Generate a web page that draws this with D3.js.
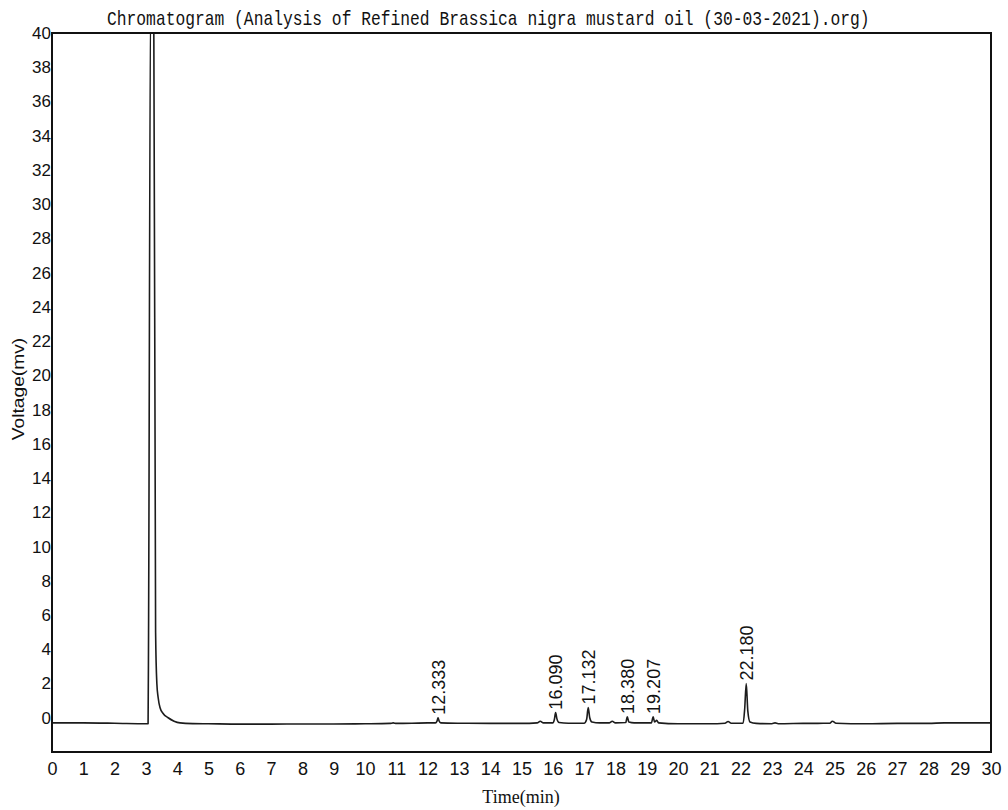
<!DOCTYPE html>
<html>
<head>
<meta charset="utf-8">
<script src="https://cdn.jsdelivr.net/npm/d3@7"></script>
<style>
  html, body { margin: 0; padding: 0; background: #ffffff; }
  svg { display: block; }
</style>
</head>
<body>
<svg id="chart" width="1008" height="810"></svg>
<script>
// ---- data ----
const titleText = "Chromatogram (Analysis of Refined Brassica nigra mustard oil (30-03-2021).org)";
const xAxisTitle = "Time(min)";
const yAxisTitle = "Voltage(mv)";

const timeTicks = [0,1,2,3,4,5,6,7,8,9,10,11,12,13,14,15,16,17,18,19,20,21,22,23,24,25,26,27,28,29,30];
const voltageTicks = [0,2,4,6,8,10,12,14,16,18,20,22,24,26,28,30,32,34,36,38,40];

const peakTimes   = [12.333, 16.090, 17.132, 18.380, 19.207, 22.180];
const peakLabels  = ["12.333", "16.090", "17.132", "18.380", "19.207", "22.180"];
const peakHeights = [0.0, 0.3, 0.6, 0.05, 0.05, 2.0];

const traceTime = [
  0, 1, 2, 3.0, 3.07, 3.085, 3.15, 3.25, 3.31, 3.35, 3.39, 3.45, 3.55, 3.71, 3.9, 4.09, 4.5,
  5, 6, 7, 8, 9, 10, 10.8, 10.9, 11.0, 11.5, 12.0, 12.25, 12.3, 12.333, 12.37, 12.42,
  13, 14, 15, 15.5, 15.6, 15.7, 16.0, 16.05, 16.09, 16.13, 16.2, 16.5,
  17.0, 17.08, 17.132, 17.18, 17.25, 17.5, 17.8, 17.9, 18.0, 18.33, 18.38, 18.43, 18.6,
  19.15, 19.207, 19.25, 19.32, 19.38, 20, 21, 21.5, 21.6, 21.7,
  22.08, 22.13, 22.18, 22.23, 22.3, 22.5, 23, 23.1, 23.2, 24, 24.85, 24.93, 25.05,
  26, 27, 28, 28.5, 29, 30
];
const traceVoltage = [
  -0.3, -0.3, -0.32, -0.35, -0.35, 5, 42, 42, 5, 2.0, 1.2, 0.6, 0.25, 0.0, -0.2, -0.3, -0.34,
  -0.35, -0.37, -0.37, -0.36, -0.36, -0.35, -0.33, -0.3, -0.33, -0.32, -0.3, -0.3, -0.2, 0.0, -0.2, -0.3,
  -0.32, -0.33, -0.33, -0.3, -0.2, -0.3, -0.3, -0.1, 0.3, -0.05, -0.28, -0.32,
  -0.32, -0.1, 0.6, 0.0, -0.25, -0.3, -0.3, -0.2, -0.3, -0.28, 0.05, -0.25, -0.3,
  -0.3, 0.05, -0.25, -0.15, -0.3, -0.35, -0.35, -0.32, -0.22, -0.32,
  -0.32, 0.5, 2.0, 0.4, -0.25, -0.33, -0.35, -0.3, -0.35, -0.33, -0.32, -0.2, -0.32,
  -0.35, -0.33, -0.33, -0.3, -0.3, -0.3
];

// ---- drawing ----
const svg = d3.select("#chart");
const mLeft = 52, mRight = 991, mTop = 33, mBottom = 752;

const x = d3.scaleLinear().domain([0, 30]).range([mLeft, mRight]);
const y = d3.scaleLinear().domain([-2, 40]).range([mBottom, mTop]);

svg.append("defs").append("clipPath").attr("id", "plotclip")
  .append("rect").attr("x", mLeft).attr("y", mTop).attr("width", mRight - mLeft).attr("height", mBottom - mTop);

// title (narrow monospace, stretched vertically)
svg.append("text")
  .attr("transform", "translate(107,25) scale(1,1.22)")
  .attr("x", 0).attr("y", 0)
  .style("font-family", "'Liberation Mono', 'DejaVu Sans Mono', monospace")
  .style("font-size", "16.3px").style("fill", "#111")
  .text(titleText);

// trace
const pts = traceTime.map((t, i) => [t, traceVoltage[i]]);
const line = d3.line().x(d => x(d[0])).y(d => y(d[1])).curve(d3.curveMonotoneX);
svg.append("path")
  .datum(pts)
  .attr("clip-path", "url(#plotclip)")
  .attr("d", line)
  .attr("fill", "none")
  .attr("stroke", "#1c1c1c")
  .attr("stroke-width", 1.6)
  .attr("stroke-linejoin", "round");

// frame
svg.append("rect")
  .attr("x", mLeft).attr("y", mTop).attr("width", mRight - mLeft).attr("height", mBottom - mTop)
  .attr("fill", "none").attr("stroke", "#111").attr("stroke-width", 2);

// axes (labels only)
const xAxis = d3.axisBottom(x).tickValues(timeTicks).tickSize(0).tickPadding(10).tickFormat(d3.format("d"));
const gx = svg.append("g").attr("transform", `translate(0,${mBottom})`).call(xAxis);
gx.select(".domain").remove();
gx.selectAll("text")
  .style("font-family", "'Liberation Sans', Arial, sans-serif")
  .style("font-size", "18px").style("fill", "#111");

const yAxis = d3.axisLeft(y).tickValues(voltageTicks).tickSize(0).tickPadding(1).tickFormat(d3.format("d"));
const gy = svg.append("g").attr("transform", `translate(${mLeft},0)`).call(yAxis);
gy.select(".domain").remove();
gy.selectAll("text")
  .style("font-family", "'Liberation Sans', Arial, sans-serif")
  .style("font-size", "17px").style("fill", "#111");

// axis titles
svg.append("text")
  .attr("x", 521).attr("y", 803).attr("text-anchor", "middle")
  .style("font-family", "'Liberation Serif', 'Times New Roman', serif")
  .style("font-size", "18px").style("fill", "#111")
  .text(xAxisTitle);

svg.append("text")
  .attr("transform", "translate(24,389) rotate(-90) scale(1.2,1)")
  .attr("x", 0).attr("y", 0)
  .attr("text-anchor", "middle")
  .style("font-family", "'Liberation Sans', Arial, sans-serif")
  .style("font-size", "16px").style("fill", "#111")
  .text(yAxisTitle);

// peak labels
peakTimes.forEach((t, i) => {
  const px = x(t), py = y(peakHeights[i]) - 3;
  svg.append("text")
    .attr("transform", `translate(${px},${py}) rotate(-90)`)
    .attr("dy", "0.36em")
    .attr("text-anchor", "start")
    .style("font-family", "'Liberation Sans', Arial, sans-serif")
    .style("font-size", "18px").style("fill", "#111")
    .text(peakLabels[i]);
});
</script>
</body>
</html>
